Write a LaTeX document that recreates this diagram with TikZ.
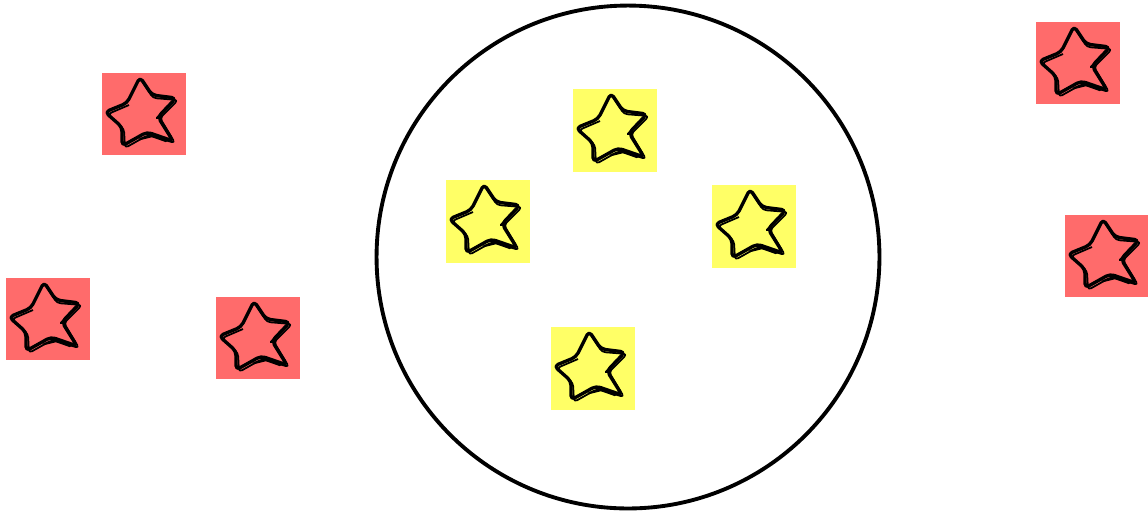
\documentclass[tikz,border=0pt]{standalone}
\usepackage{xcolor}
\usepackage{tikz}
\usetikzlibrary{positioning}

\definecolor{tilered}{HTML}{FF6B6B}
\definecolor{tileyellow}{HTML}{FFFF66}

\begin{document}
\begin{tikzpicture}[
  x=0.02cm, y=-0.02cm,
  redtile/.style={
    fill=tilered,
    draw=none,
    minimum width=1.68cm,
    minimum height=1.64cm,
    inner sep=0pt
  },
  yellowtile/.style={
    fill=tileyellow,
    draw=none,
    minimum width=1.68cm,
    minimum height=1.66cm,
    inner sep=0pt
  },
  field/.style={
    circle,
    draw=black,
    line width=2.2pt,
    minimum size=10.06cm,
    inner sep=0pt
  },
  sketchstar/.pic={
    \draw[line width=1.9pt, rounded corners=2.5pt, line join=round]
      (-4,-37) -- (8,-19) -- (32,-16) -- (14,3) -- (29,27) -- (3,18)
      -- (-22,32) -- (-22,13) -- (-39,-2) -- (-17,-11) -- cycle;
    \draw[line width=1pt, rounded corners=2pt, line join=round]
      (-3,-34) -- (9,-16) -- (34,-14) -- (16,4) -- (31,29) -- (4,21)
      -- (-19,34) -- (-20,15) -- (-36,0) -- (-15,-9);
    \draw[line width=1.3pt, line cap=round] (24,-8) -- (13,4);
    \draw[line width=1.3pt, line cap=round] (-4,25) -- (8,22) -- (22,27);
  }
]
\useasboundingbox (0,0) rectangle (1148,512);

% Central circle
\node[field] (ring) at (628,257) {};

% Red tiles outside
\node[redtile] (red1) at (144,114) {};
\node[redtile] (red2) at (48,319) {};
\node[redtile] (red3) at (258,338) {};
\node[redtile] (red4) at (1078,63) {};
\node[redtile] (red5) at (1107,256) {};

% Yellow tiles inside
\node[yellowtile] (yel1) at (615,130) {};
\node[yellowtile] (yel2) at (488,221) {};
\node[yellowtile] (yel3) at (754,226) {};
\node[yellowtile] (yel4) at (593,368) {};

% Stars
\pic at (red1) {sketchstar};
\pic at (red2) {sketchstar};
\pic at (red3) {sketchstar};
\pic at (red4) {sketchstar};
\pic at (red5) {sketchstar};
\pic at (yel1) {sketchstar};
\pic at (yel2) {sketchstar};
\pic at (yel3) {sketchstar};
\pic at (yel4) {sketchstar};

\end{tikzpicture}
\end{document}
